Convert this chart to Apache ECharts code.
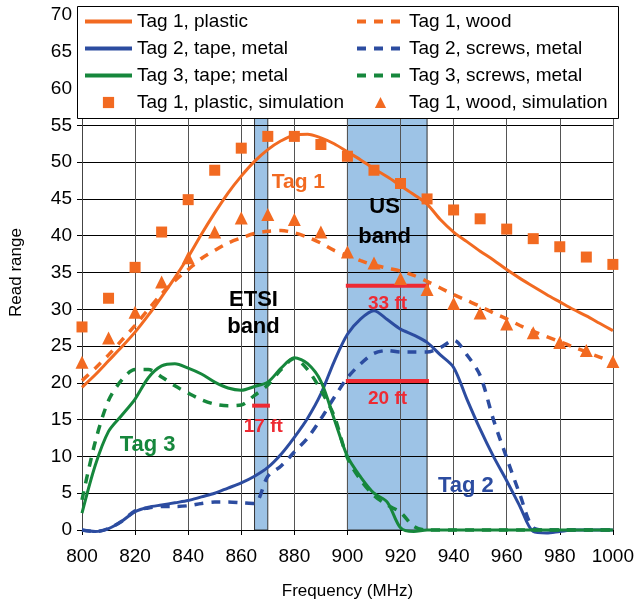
<!DOCTYPE html>
<html><head><meta charset="utf-8">
<script src="https://cdn.jsdelivr.net/npm/echarts@6/dist/echarts.min.js"></script>
<style>html,body{margin:0;padding:0;background:#fff}#c{width:637px;height:605px}</style>
</head><body><div id="c"></div>
<script>
// ---- data ----
const curveFreq = [800,805,810,815,820,825,830,835,840,845,850,855,860,865,870,875,880,885,890,895,900,905,910,915,920,925,930,935,940,945,950,955,960,965,970,975,980,985,990,995,1000];
const tag1Plastic = [19.4,21.1,23.0,24.9,26.9,29.2,31.7,34.3,37.1,40.2,43.1,45.8,48.1,50.1,51.7,52.9,53.7,53.8,53.3,52.5,51.4,50.3,49.1,48.0,46.8,45.6,44.3,42.2,40.5,39.2,37.9,36.7,35.4,34.2,33.1,32.0,31.0,30.0,29.1,28.1,27.1];
const tag1Wood = [20.3,22.0,23.8,25.8,27.8,30.0,32.1,33.9,35.4,36.9,38.0,39.0,39.7,40.3,40.6,40.7,40.4,39.8,39.0,38.0,37.3,36.6,36.0,35.6,35.2,34.6,33.8,32.9,32.0,31.2,30.4,29.5,28.7,27.8,27.0,26.3,25.6,24.9,24.2,23.5,22.8];
const tag2Tape = [0,-0.2,0.2,1.2,2.5,3.1,3.4,3.7,4.0,4.5,5.0,5.7,6.4,7.3,8.5,10.3,12.6,15.2,18.5,22.9,26.6,28.7,29.8,28.6,27.3,26.5,25.5,23.8,22.1,17.8,13.7,10.0,6.7,3.2,-0.2,-0.4,-0.2,0,0,0,0];
const tag2Screws = [0,-0.2,0.2,1.2,2.6,3.0,3.2,3.2,3.3,3.6,3.8,3.8,3.7,3.6,7.3,8.7,10.6,12.5,15.1,18.0,20.7,22.6,24.0,24.4,24.2,24.2,24.2,24.8,25.8,23.8,21.0,15.0,9.8,4.8,0.3,0,0,0,0,0,0];
const tag3Tape = [2.3,8.8,13.4,15.6,17.8,20.7,22.3,22.6,22.0,21.2,20.1,19.3,19.0,19.5,20.1,22.0,23.4,22.6,20.2,15.1,10.0,7.2,5.0,3.8,0.3,-0.2,0,0,0,0,0,0,0,0,0,0,0,0,0,0,0];
const tag3Screws = [4.1,12.0,17.6,20.4,21.8,21.8,20.8,19.6,18.6,17.7,17.1,16.9,17.0,18.3,19.7,21.8,23.3,21.8,19.0,15.5,9.8,6.8,4.7,3.4,2.4,0.5,0,0,0,0,0,0,0,0,0,0,0,0,0,0,0];
const simFreq = [800,810,820,830,840,850,860,870,880,890,900,910,920,930,940,950,960,970,980,990,1000];
const simPlastic = [27.6,31.5,35.7,40.5,44.9,48.9,51.9,53.5,53.5,52.4,50.8,48.9,47.1,45.0,43.5,42.3,40.9,39.6,38.5,37.1,36.1];
const simWood = [22.8,26.1,29.6,33.7,37.0,40.5,42.4,42.9,42.2,40.5,37.8,36.3,34.2,32.7,30.8,29.5,28.0,26.8,25.5,24.4,22.9];
const bands = [[865,870],[900,930]];
const rangeLabels = ['33 ft','20 ft','17 ft'];
const rangeFrom = [899.4,899.4,864.1];
const rangeTo = [930.7,930.7,870.8];
const rangeValue = [33.2,20.25,16.9];
const noteTexts = ['Tag 1','ETSI\nband','US\nband','33 ft','20 ft','17 ft','Tag 3','Tag 2'];
const noteFreq = [881.5,864.6,914.0,915.1,915.1,868.3,824.7,944.6];
const noteValue = [47.3,29.4,41.9,30.8,17.8,14.0,11.6,6.0];
const xTicks = {min:800,max:1000,interval:20};
const yTicks = {min:0,max:70,interval:5};

// ---- styles ----
const FONT = "'Liberation Sans', Arial, sans-serif";
const ORANGE = '#F26A21', BLUE = '#2C4CA0', GREEN = '#16873C', RED = '#EE2A33';
const noteStyle = [
  {color:ORANGE,fontSize:21},{color:'#000',fontSize:22,lineHeight:27},{color:'#000',fontSize:22,lineHeight:30},
  {color:RED,fontSize:19},{color:RED,fontSize:19},{color:RED,fontSize:19},
  {color:GREEN,fontSize:22},{color:BLUE,fontSize:22}
];
const pairs = (xs, ys) => xs.map((x,i)=>[x, ys[i]]);
const dash = [9,8];

function lineSeries(name, data, color, dashed) {
  return {
    name, type:'line', data: pairs(curveFreq, data), symbol:'none', smooth:0.3,
    clip:false, z:3,
    lineStyle:{color, width: dashed?3.5:3, type: dashed?dash:'solid'},
    itemStyle:{color}
  };
}
function simSeries(name, data, symbol, size) {
  return {
    name, type:'line', data: pairs(simFreq, data), symbol, symbolSize:size,
    showSymbol:true, showAllSymbol:true, z:4,
    lineStyle:{opacity:0, width:0}, itemStyle:{color:ORANGE, opacity:1}
  };
}

const series = [
  { name:'bands', type:'line', data:[], markArea:{ silent:true, z:-1,
      itemStyle:{color:'#9DC3E6', borderColor:'#333', borderWidth:1},
      data: bands.map(b=>[{xAxis:b[0], yAxis:0},{xAxis:b[1], yAxis:70}]) } },
  lineSeries('Tag 2, tape, metal', tag2Tape, BLUE, false),
  lineSeries('Tag 2, screws, metal', tag2Screws, BLUE, true),
  lineSeries('Tag 3, tape; metal', tag3Tape, GREEN, false),
  lineSeries('Tag 3, screws, metal', tag3Screws, GREEN, true),
  lineSeries('Tag 1, plastic', tag1Plastic, ORANGE, false),
  lineSeries('Tag 1, wood', tag1Wood, ORANGE, true),
  simSeries('Tag 1, plastic, simulation', simPlastic, 'rect', 11),
  simSeries('Tag 1, wood, simulation', simWood, 'triangle', 13)
];
rangeLabels.forEach((lab,i)=>{
  series.push({ name:'range '+lab, type:'line', data:[[rangeFrom[i],rangeValue[i]],[rangeTo[i],rangeValue[i]]],
    symbol:'none', z:4, lineStyle:{color:RED, width:4} });
});
series.push({ name:'notes', type:'scatter', symbolSize:1, z:4, silent:true,
  itemStyle:{color:'transparent', opacity:1},
  data: noteTexts.map((t,i)=>({ name:t, value:[noteFreq[i], noteValue[i]],
    label:Object.assign({show:true, position:'inside', formatter:'{b}', fontWeight:'bold', fontFamily:FONT, align:'center', opacity:1}, noteStyle[i]) }))
});

const legendBase = {
  orient:'vertical', top:12, padding:0, itemWidth:47, itemHeight:14, itemGap:8, z:6,
  textStyle:{fontSize:19, lineHeight:19, color:'#000', fontFamily:FONT}, selectedMode:false
};
const lineItem = n => ({name:n, itemStyle:{opacity:0}, lineStyle:{width:4}});
const symItem = n => ({name:n, lineStyle:{opacity:0}});

const chart = echarts.init(document.getElementById('c'), null, {renderer:'canvas'});
chart.setOption({
  animation:false,
  backgroundColor:'#fff',
  textStyle:{fontFamily:FONT},
  grid:{left:73, right:22, top:15, bottom:68, containLabel:false},
  xAxis:{ type:'value', min:xTicks.min, max:xTicks.max, interval:xTicks.interval,
    name:'Frequency (MHz)', nameLocation:'middle', nameGap:53,
    nameTextStyle:{fontSize:17, color:'#000', fontFamily:FONT},
    axisLine:{show:true, onZero:false, lineStyle:{color:'#000', width:1}},
    axisTick:{show:true, inside:false, length:5, lineStyle:{color:'#000'}},
    axisLabel:{fontSize:19, color:'#000', margin:17, fontFamily:FONT, formatter: v => String(v)},
    splitLine:{show:true, lineStyle:{color:'#555', width:1}} },
  yAxis:{ type:'value', min:yTicks.min, max:yTicks.max, interval:yTicks.interval,
    name:'Read range', nameLocation:'middle', nameGap:57, nameRotate:90,
    nameTextStyle:{fontSize:17, color:'#000', fontFamily:FONT},
    axisLine:{show:true, lineStyle:{color:'#444', width:1}},
    axisTick:{show:true, inside:false, length:5, lineStyle:{color:'#000'}},
    axisLabel:{fontSize:19, color:'#000', margin:10, fontFamily:FONT},
    splitLine:{show:true, lineStyle:{color:'#000', width:1}} },
  legend:[
    Object.assign({left:83, data:[lineItem('Tag 1, plastic'),lineItem('Tag 2, tape, metal'),lineItem('Tag 3, tape; metal'),symItem('Tag 1, plastic, simulation')]}, legendBase),
    Object.assign({left:355, data:[lineItem('Tag 1, wood'),lineItem('Tag 2, screws, metal'),lineItem('Tag 3, screws, metal'),symItem('Tag 1, wood, simulation')]}, legendBase)
  ],
  graphic:[{ type:'rect', z:5, shape:{x:77.5, y:6.5, width:541, height:112},
    style:{fill:'#fff', stroke:'#000', lineWidth:1} }],
  series
});
</script>
</body></html>
